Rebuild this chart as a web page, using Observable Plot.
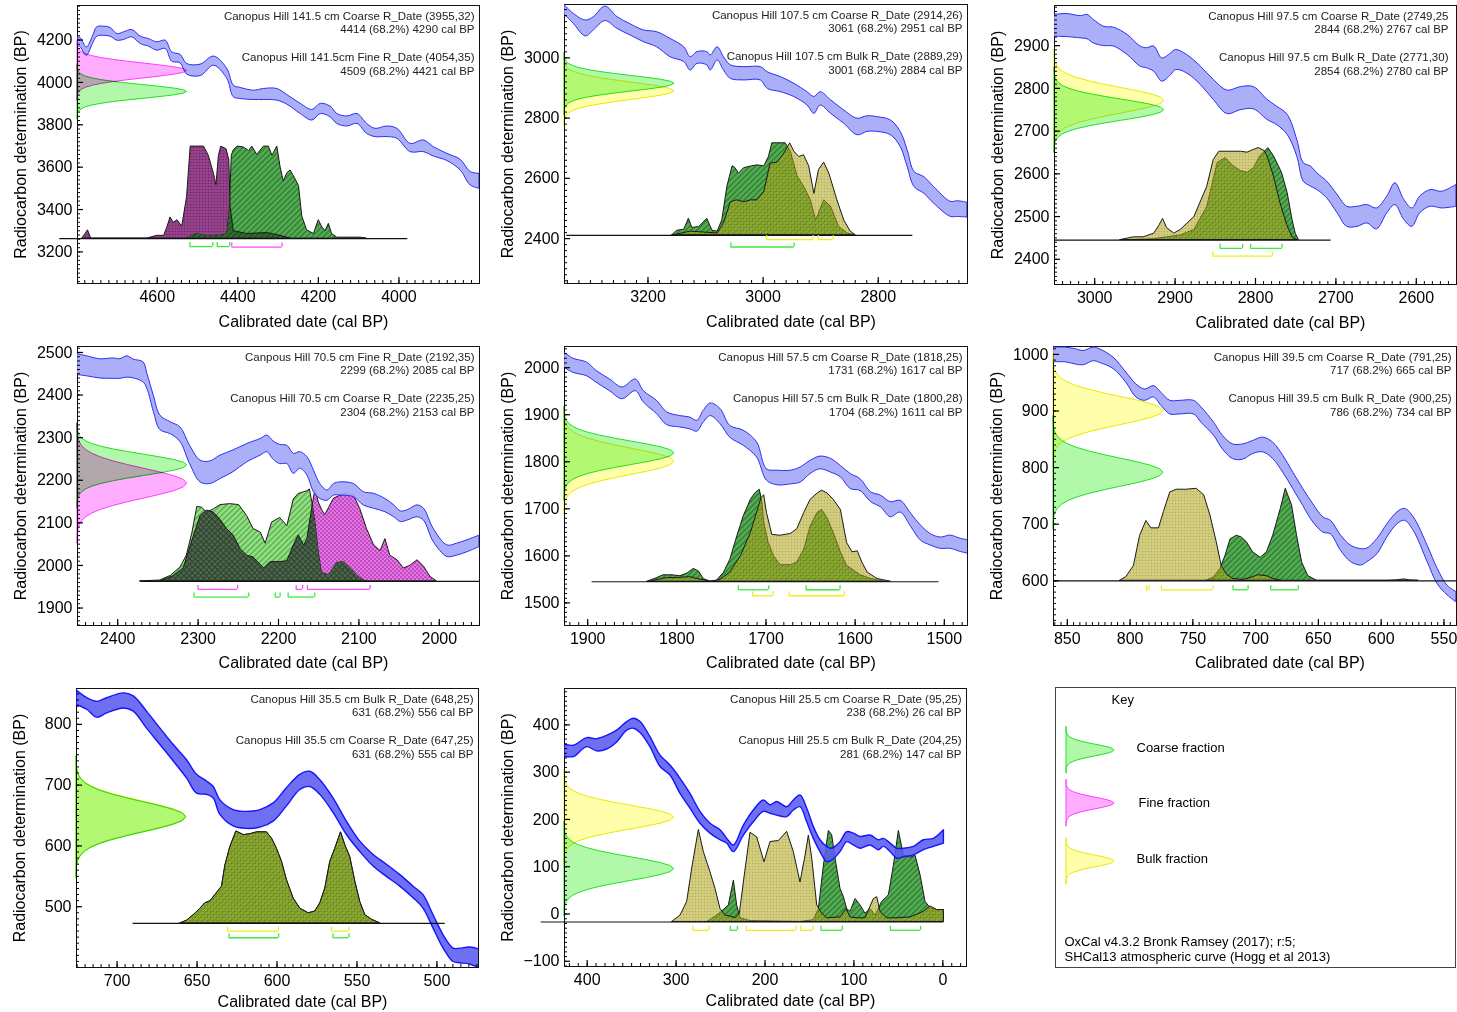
<!DOCTYPE html>
<html><head><meta charset="utf-8"><title>Canopus Hill OxCal calibrations</title>
<script src="https://cdn.jsdelivr.net/npm/d3@7"></script>
<script src="https://cdn.jsdelivr.net/npm/@observablehq/plot@0.6"></script>
<style>
html,body{margin:0;padding:0;background:#fff;}
#fig{position:relative;width:1457px;height:1012px;overflow:hidden;background:#fff;font-family:"Liberation Sans",Arial,Helvetica,sans-serif;}
</style></head><body>
<svg width="0" height="0" style="position:absolute;left:0;top:0" aria-hidden="true"><defs>
<pattern id="patGreen" patternUnits="userSpaceOnUse" width="4" height="4" patternTransform="rotate(-45)"><rect width="4" height="4" fill="#55ad55"/><rect width="4" height="1.4" fill="#2e7a2e"/></pattern>
<pattern id="patGreenLight" patternUnits="userSpaceOnUse" width="4" height="4" patternTransform="rotate(-45)"><rect width="4" height="4" fill="#92e383"/><rect width="4" height="1.4" fill="#5aa84e"/></pattern>
<pattern id="patDarkGreen" patternUnits="userSpaceOnUse" width="4" height="4" patternTransform="rotate(-45)"><rect width="4" height="4" fill="#316f31"/><rect width="4" height="1.4" fill="#1d4a1d"/></pattern>
<pattern id="patDarkGray" patternUnits="userSpaceOnUse" width="4" height="4" patternTransform="rotate(45)"><rect width="4" height="4" fill="#4f694f"/><rect width="4" height="1.2" fill="#2f432f"/><rect width="1.2" height="4" fill="#2f432f"/></pattern>
<pattern id="patYellow" patternUnits="userSpaceOnUse" width="3" height="3"><rect width="3" height="3" fill="#b3a91e"/><circle cx="1.5" cy="1.5" r="0.75" fill="#7a7400"/></pattern>
<pattern id="patMagenta" patternUnits="userSpaceOnUse" width="4" height="4"><rect width="4" height="4" fill="#e476e4"/><rect width="2" height="2" fill="#c14cc1"/><rect x="2" y="2" width="2" height="2" fill="#c14cc1"/></pattern>
<pattern id="patPurple" patternUnits="userSpaceOnUse" width="3" height="3"><rect width="3" height="3" fill="#96428c"/><circle cx="1.5" cy="1.5" r="0.8" fill="#6b2464"/></pattern>
</defs></svg>
<div id="fig"></div>
<script>
const FONT = '"Liberation Sans", Arial, Helvetica, sans-serif';
const fmt = d3.format("d");

// ---------- shared: standard normal profile (offset in sd, relative density) ----------
const gaussProfile = [[0,1],[0.25,0.969],[0.5,0.8825],[0.75,0.7548],[1,0.6065],[1.25,0.4578],[1.5,0.3247],[1.75,0.2163],[2,0.1353],[2.25,0.0796],[2.5,0.0439],[2.75,0.0228],[3,0.0111],[3.25,0.0051],[3.5,0.0022],[3.75,0.0009],[4,0.0003]];

// ---------- Panel 1: 141.5 cm ----------
const xTicks141 = [4600,4400,4200,4000];
const yTicks141 = [3200,3400,3600,3800,4000,4200];
const labels141 = ["Canopus Hill 141.5 cm Coarse R_Date (3955,32)","4414 (68.2%) 4290 cal BP","Canopus Hill 141.5cm Fine R_Date (4054,35)","4509 (68.2%) 4421 cal BP"];
const dates141 = [["coarse",3955,32],["fine",4054,35]];
const cal141 = [[4797,4213,4173],[4790,4209,4165],[4775,4165,4126],[4760,4215,4180],[4749,4260,4216],[4732,4263,4220],[4716,4257,4216],[4699,4228,4197],[4683,4236,4200],[4662,4247,4213],[4641,4216,4181],[4621,4205,4169],[4600,4189,4150],[4579,4197,4158],[4563,4142,4098],[4542,4130,4090],[4526,4087,4037],[4492,4084,4030],[4459,4122,4079],[4426,4063,4016],[4410,3985,3930],[4393,3974,3922],[4360,3961,3917],[4335,3969,3917],[4302,3969,3914],[4277,3940,3895],[4244,3899,3851],[4215,3870,3820],[4194,3899,3851],[4170,3886,3836],[4153,3851,3804],[4128,3839,3792],[4103,3851,3804],[4079,3804,3757],[4058,3781,3742],[4029,3792,3742],[4004,3781,3734],[3971,3710,3671],[3938,3726,3671],[3913,3694,3650],[3880,3663,3629],[3847,3635,3585],[3822,3577,3514],[3800,3569,3498]];
const dist141Fine = [[4786,0],[4778,0.05],[4772,0.09],[4764,0],[4625,0],[4600,0.03],[4583,0.03],[4575,0.12],[4567,0.23],[4559,0.17],[4550,0.2],[4538,0.13],[4526,0.45],[4517,1],[4484,1],[4472,0.9],[4459,0.7],[4453,0.58],[4447,0.9],[4441,1],[4428,0.97],[4421,0.85],[4418,0.35],[4410,0.08],[4377,0.05],[4327,0.06],[4294,0.03],[4269,0]];
const dist141Coarse = [[4526,0],[4501,0.05],[4476,0.02],[4443,0.03],[4426,0.05],[4420,0.3],[4415,0.9],[4410,0.96],[4400,1],[4385,0.99],[4372,0.95],[4364,1],[4352,0.91],[4335,1],[4323,1],[4314,0.9],[4302,1],[4294,0.78],[4286,0.62],[4277,0.71],[4269,0.74],[4261,0.68],[4248,0.57],[4240,0.24],[4228,0.09],[4211,0.05],[4199,0.2],[4190,0.12],[4182,0.08],[4174,0.16],[4166,0.05],[4153,0.01],[4095,0.01],[4080,0]];
const ranges141 = [["coarse",4519,4462],["coarse",4451,4420],["fine",4415,4290]];

// ---------- Panel 2: 107.5 cm ----------
const xTicks107 = [3200,3000,2800];
const yTicks107 = [2400,2600,2800,3000];
const labels107 = ["Canopus Hill 107.5 cm Coarse R_Date (2914,26)","3061 (68.2%) 2951 cal BP","Canopus Hill 107.5 cm Bulk R_Date (2889,29)","3001 (68.2%) 2884 cal BP"];
const dates107 = [["coarse",2914,26],["bulk",2889,29]];
const cal107 = [[3345,3175,3144],[3329,3146,3113],[3308,3124,3071],[3294,3135,3091],[3274,3170,3122],[3253,3135,3096],[3230,3111,3074],[3207,3091,3052],[3184,3085,3035],[3161,3063,3002],[3137,3035,2986],[3126,3002,2958],[3114,3019,2980],[3097,3019,2975],[3091,3008,2958],[3079,3035,2991],[3068,3002,2958],[3056,2975,2930],[3033,2969,2925],[3004,2969,2925],[2992,2952,2897],[2969,2936,2886],[2946,2914,2870],[2923,2886,2842],[2911,2870,2814],[2900,2886,2842],[2882,2859,2814],[2859,2825,2781],[2836,2798,2743],[2819,2806,2754],[2801,2803,2754],[2778,2792,2743],[2761,2754,2704],[2749,2693,2638],[2737,2621,2571],[2720,2604,2549],[2703,2571,2516],[2674,2522,2472],[2662,2524,2472],[2645,2519,2470]];
const dist107Coarse = [[3158,0],[3149,0.05],[3137,0.06],[3129,0.18],[3123,0.08],[3111,0.09],[3097,0.18],[3088,0.05],[3079,0.04],[3071,0.16],[3062,0.53],[3053,0.75],[3048,0.73],[3042,0.67],[3033,0.73],[3019,0.75],[3010,0.76],[2998,0.75],[2990,0.85],[2984,1],[2961,1],[2952,0.91],[2940,0.64],[2929,0.53],[2917,0.38],[2908,0.16],[2894,0.38],[2882,0.31],[2868,0.09],[2853,0.02],[2842,0]];
const dist107Bulk = [[3155,0],[3126,0.04],[3079,0.02],[3068,0.13],[3056,0.36],[3045,0.38],[3033,0.36],[3021,0.38],[3010,0.38],[2998,0.47],[2987,0.78],[2975,0.79],[2963,0.89],[2953,1],[2946,0.91],[2937,0.85],[2929,0.87],[2920,0.75],[2911,0.45],[2903,0.71],[2894,0.79],[2885,0.67],[2871,0.38],[2859,0.16],[2848,0.04],[2839,0]];
const ranges107 = [["bulk",2994,2913],["bulk",2904,2878],["coarse",3056,2946]];

// ---------- Panel 3: 97.5 cm ----------
const xTicks97 = [3000,2900,2800,2700,2600];
const yTicks97 = [2400,2500,2600,2700,2800,2900];
const labels97 = ["Canopus Hill 97.5 cm Coarse R_Date (2749,25","2844 (68.2%) 2767 cal BP","Canopus Hill 97.5 cm Bulk R_Date (2771,30)","2854 (68.2%) 2780 cal BP"];
const dates97 = [["coarse",2749,25],["bulk",2771,30]];
const cal97 = [[3050,2972,2921],[3034,2974,2920],[3017,2969,2917],[3009,2972,2915],[3001,2960,2905],[2988,2944,2899],[2976,2942,2898],[2959,2925,2878],[2943,2898,2851],[2935,2894,2847],[2926,2898,2839],[2916,2870,2816],[2905,2882,2831],[2899,2890,2843],[2885,2878,2835],[2868,2851,2808],[2852,2820,2773],[2835,2795,2740],[2818,2803,2749],[2802,2803,2751],[2785,2773,2726],[2773,2757,2714],[2760,2738,2691],[2748,2679,2640],[2740,2625,2582],[2731,2617,2570],[2723,2601,2562],[2711,2582,2543],[2698,2551,2508],[2686,2523,2476],[2673,2523,2476],[2661,2527,2484],[2649,2519,2470],[2636,2547,2508],[2626,2578,2527],[2615,2539,2492],[2605,2519,2476],[2595,2547,2508],[2582,2562,2523],[2568,2558,2519],[2550,2574,2523]];
const dist97Bulk = [[2968,0],[2951,0.03],[2939,0.03],[2926,0.07],[2920,0.15],[2915,0.23],[2910,0.13],[2901,0.07],[2893,0.11],[2876,0.25],[2860,0.58],[2852,0.87],[2845,0.96],[2835,0.96],[2818,0.96],[2810,0.95],[2802,0.98],[2796,1],[2789,0.97],[2785,0.91],[2777,0.69],[2769,0.4],[2760,0.15],[2754,0.03],[2748,0]];
const dist97Coarse = [[2959,0],[2926,0.01],[2910,0.03],[2893,0.05],[2876,0.11],[2860,0.36],[2847,0.84],[2837,0.89],[2827,0.8],[2818,0.75],[2810,0.73],[2802,0.78],[2794,0.91],[2784,1],[2777,0.91],[2767,0.73],[2760,0.51],[2754,0.22],[2750,0.07],[2746,0]];
const ranges97 = [["coarse",2844,2816],["coarse",2806,2767],["bulk",2853,2779]];

// ---------- Panel 4: 70.5 cm ----------
const xTicks70 = [2400,2300,2200,2100,2000];
const yTicks70 = [1900,2000,2100,2200,2300,2400,2500];
const labels70 = ["Canpous Hill 70.5 cm Fine R_Date (2192,35)","2299 (68.2%) 2085 cal BP","Canopus Hill 70.5 cm Coarse R_Date (2235,25)","2304 (68.2%) 2153 cal BP"];
const dates70 = [["coarse",2235,25],["fine",2192,35]];
const cal70 = [[2450,2496,2447],[2438,2491,2444],[2422,2484,2439],[2405,2486,2438],[2397,2484,2438],[2388,2491,2441],[2380,2483,2439],[2368,2477,2430],[2363,2449,2414],[2355,2398,2360],[2347,2352,2318],[2334,2336,2308],[2322,2324,2290],[2310,2281,2238],[2297,2246,2195],[2285,2244,2191],[2272,2258,2203],[2256,2270,2219],[2239,2285,2242],[2222,2297,2258],[2214,2305,2266],[2206,2291,2248],[2198,2283,2238],[2189,2281,2238],[2181,2262,2215],[2173,2266,2227],[2164,2254,2211],[2156,2223,2172],[2148,2191,2156],[2139,2176,2152],[2131,2191,2164],[2123,2195,2164],[2106,2191,2160],[2094,2172,2141],[2081,2168,2133],[2067,2156,2125],[2056,2141,2113],[2048,2127,2102],[2040,2129,2105],[2027,2141,2113],[2019,2133,2105],[2007,2086,2055],[1990,2047,2020],[1978,2051,2023],[1965,2059,2031],[1950,2070,2043]];
const dist70Coarse = [[2372,0],[2347,0.01],[2334,0.06],[2322,0.15],[2314,0.28],[2307,0.53],[2301,0.81],[2295,0.8],[2289,0.75],[2281,0.78],[2272,0.83],[2260,0.84],[2249,0.83],[2239,0.71],[2231,0.57],[2222,0.53],[2216,0.41],[2208,0.64],[2198,0.69],[2189,0.6],[2181,0.89],[2175,0.95],[2168,0.97],[2164,0.98],[2161,1],[2158,0.86],[2154,0.64],[2150,0.32],[2146,0.09],[2137,0.07],[2127,0.2],[2119,0.21],[2110,0.14],[2102,0.06],[2094,0.01],[2090,0]];
const dist70Fine = [[2347,0],[2330,0.06],[2318,0.14],[2305,0.5],[2297,0.71],[2289,0.77],[2281,0.75],[2274,0.69],[2264,0.57],[2256,0.5],[2247,0.35],[2239,0.28],[2231,0.26],[2218,0.14],[2210,0.21],[2198,0.21],[2189,0.22],[2181,0.39],[2175,0.5],[2168,0.39],[2164,0.46],[2158,0.8],[2154,1],[2150,0.86],[2146,0.78],[2142,0.72],[2137,0.8],[2131,0.9],[2115,0.96],[2106,0.93],[2098,0.78],[2090,0.57],[2081,0.39],[2073,0.33],[2067,0.46],[2061,0.28],[2052,0.23],[2044,0.14],[2036,0.17],[2027,0.23],[2019,0.16],[2011,0.05],[2003,0]];
const ranges70 = [["fine",2300,2251],["fine",2178,2170],["fine",2164,2086],["coarse",2305,2237],["coarse",2204,2198],["coarse",2188,2155]];

// ---------- Panel 5: 57.5 cm ----------
const xTicks57 = [1900,1800,1700,1600,1500];
const yTicks57 = [1500,1600,1700,1800,1900,2000];
const labels57 = ["Canopus Hill 57.5 cm Coarse R_Date (1818,25)","1731 (68.2%) 1617 cal BP","Canopus Hill 57.5 cm Bulk R_Date (1800,28)","1704 (68.2%) 1611 cal BP"];
const dates57 = [["coarse",1818,25],["bulk",1800,28]];
const cal57 = [[1926,2032,2000],[1916,2019,1989],[1901,2011,1982],[1890,1993,1968],[1875,1975,1950],[1861,1958,1933],[1846,1975,1950],[1837,1950,1926],[1822,1929,1901],[1811,1905,1878],[1796,1897,1873],[1785,1894,1869],[1777,1887,1864],[1770,1908,1883],[1762,1924,1897],[1751,1912,1880],[1740,1876,1851],[1725,1866,1834],[1710,1841,1809],[1699,1784,1760],[1687,1781,1750],[1672,1781,1752],[1661,1788,1756],[1650,1802,1774],[1639,1811,1784],[1627,1806,1777],[1616,1791,1767],[1605,1774,1742],[1594,1763,1738],[1582,1735,1714],[1571,1728,1703],[1560,1714,1682],[1549,1717,1692],[1537,1689,1661],[1526,1664,1632],[1515,1646,1622],[1504,1639,1615],[1493,1643,1615],[1481,1636,1608],[1470,1632,1603]];
const dist57Coarse = [[1833,0],[1822,0.04],[1815,0.07],[1805,0.07],[1796,0.06],[1788,0.09],[1781,0.14],[1775,0.11],[1770,0.03],[1762,0],[1755,0.01],[1747,0.1],[1740,0.24],[1732,0.5],[1725,0.71],[1717,0.89],[1712,0.96],[1707,1],[1704,0.86],[1702,0.64],[1697,0.42],[1691,0.28],[1684,0.18],[1672,0.18],[1665,0.21],[1657,0.35],[1650,0.6],[1642,0.75],[1637,0.78],[1631,0.69],[1624,0.53],[1616,0.32],[1609,0.17],[1601,0.12],[1594,0.07],[1582,0.03],[1567,0]];
const dist57Bulk = [[1830,0],[1811,0.04],[1800,0.04],[1785,0.05],[1777,0.03],[1762,0],[1751,0.02],[1740,0.1],[1728,0.28],[1717,0.53],[1710,0.75],[1705,0.91],[1702,0.94],[1699,0.75],[1693,0.51],[1684,0.5],[1672,0.52],[1665,0.57],[1657,0.75],[1650,0.89],[1642,0.96],[1637,0.99],[1631,0.96],[1624,0.89],[1616,0.78],[1609,0.42],[1603,0.32],[1597,0.33],[1592,0.21],[1586,0.1],[1575,0.03],[1560,0]];
const ranges57 = [["coarse",1731,1697],["coarse",1655,1617],["bulk",1715,1692],["bulk",1674,1612]];

// ---------- Panel 6: 39.5 cm ----------
const xTicks39 = [850,800,750,700,650,600,550];
const yTicks39 = [600,700,800,900,1000];
const labels39 = ["Canopus Hill 39.5 cm Coarse R_Date (791,25)","717 (68.2%) 665 cal BP","Canopus Hill 39.5 cm Bulk R_Date (900,25)","786 (68.2%) 734 cal BP"];
const dates39 = [["coarse",791,25],["bulk",900,25]];
const cal39 = [[861,1012,986],[851,1012,986],[843,1009,982],[837,1006,981],[829,1012,988],[824,1009,985],[813,994,974],[803,968,950],[795,947,924],[788,938,918],[781,944,924],[775,932,909],[768,918,894],[760,918,894],[749,918,894],[743,906,879],[733,879,856],[726,856,832],[718,841,815],[710,841,814],[702,847,824],[694,853,827],[686,844,815],[678,821,791],[670,791,762],[662,762,732],[654,735,703],[646,712,685],[640,706,682],[632,680,653],[624,662,633],[616,656,627],[611,657,633],[603,674,647],[595,700,677],[587,721,700],[581,727,706],[574,712,688],[563,662,633],[555,621,594],[547,591,574],[540,580,562]];
const dist39Bulk = [[808,0],[803,0.04],[797,0.16],[792,0.49],[787,0.65],[783,0.57],[777,0.57],[773,0.75],[768,0.96],[763,0.99],[755,0.99],[747,1],[741,0.93],[736,0.71],[731,0.42],[727,0.16],[723,0.07],[718,0.02],[710,0.01],[704,0.03],[698,0.06],[691,0.05],[686,0.02],[680,0]];
const dist39Coarse = [[739,0],[733,0.04],[728,0.13],[724,0.27],[720,0.45],[715,0.49],[711,0.47],[707,0.42],[702,0.31],[696,0.25],[691,0.31],[686,0.49],[680,0.78],[676,1],[671,0.82],[667,0.49],[663,0.2],[658,0.05],[651,0],[595,0],[587,0.005],[582,0.015],[577,0.005],[570,0]];
const ranges39 = [["bulk",787,785],["bulk",775,734],["coarse",718,706],["coarse",688,666]];

// ---------- Panel 7: 35.5 cm ----------
const xTicks35 = [700,650,600,550,500];
const yTicks35 = [500,600,700,800];
const labels35 = ["Canopus Hill 35.5 cm Bulk R_Date (648,25)","631 (68.2%) 556 cal BP","Canopus Hill 35.5 cm Coarse R_Date (647,25)","631 (68.2%) 555 cal BP"];
const dates35 = [["coarse",647,25],["bulk",648,25]];
const cal35 = [[725.4,856,832],[718.7,843,824],[712.5,837,811],[706.2,843,818],[695.8,851,826],[689.6,846,821],[681.3,821,793],[672.9,793,766],[664.6,766,739],[656.3,741,711],[650,717,686],[643.8,706,684],[639.6,697,678],[635.4,675,651],[627.1,659,632],[618.8,656,628],[610.4,659,630],[602.1,670,640],[593.8,695,665],[585.4,717,692],[579.2,722,697],[572.9,708,684],[564.6,678,654],[556.3,640,618],[547.9,607,590],[539.6,585,566],[531.3,569,549],[522.9,552,533],[514.6,533,514],[508.4,519,497],[502.1,486,464],[495.8,453,431],[489.6,431,409],[485.4,431,407],[479.2,433,405],[472.9,429,398]];
const dist35Coarse = [[660.4,0],[656.3,0.03],[652.1,0.09],[647.9,0.16],[644.8,0.22],[641.7,0.24],[638.5,0.31],[634.4,0.4],[632.3,0.63],[629.2,0.83],[625.4,1],[620.8,0.96],[616.7,0.97],[612.5,0.99],[606.3,0.99],[603.1,0.92],[600,0.81],[596.9,0.67],[593.8,0.47],[589.6,0.27],[585.4,0.16],[580.2,0.11],[576.1,0.13],[572.9,0.22],[569.8,0.38],[566.7,0.67],[563.6,0.81],[560,0.99],[557.3,0.85],[554.2,0.72],[551,0.45],[547.9,0.23],[544.8,0.09],[540.6,0.04],[535.4,0]];
const dist35Bulk = [[660.4,0],[656.3,0.03],[652.1,0.09],[647.9,0.16],[644.8,0.22],[641.7,0.24],[638.5,0.31],[634.4,0.4],[632.3,0.63],[629.2,0.83],[625.4,1],[620.8,0.96],[616.7,0.97],[612.5,0.99],[606.3,0.99],[603.1,0.92],[600,0.81],[596.9,0.67],[593.8,0.47],[589.6,0.27],[585.4,0.16],[580.2,0.11],[576.1,0.13],[572.9,0.22],[569.8,0.38],[566.7,0.67],[563.6,0.81],[560,0.99],[557.3,0.85],[554.2,0.72],[551,0.45],[547.9,0.23],[544.8,0.09],[540.6,0.04],[535.4,0]];
const ranges35 = [["bulk",631,599],["bulk",566,555],["coarse",630,599],["coarse",565,555]];

// ---------- Panel 8: 25.5 cm ----------
const xTicks25 = [400,300,200,100,0];
const yTicks25 = [-100,0,100,200,300,400];
const labels25 = ["Canopus Hill 25.5 cm Coarse R_Date (95,25)","238 (68.2%) 26 cal BP","Canopus Hill 25.5 cm Bulk R_Date (204,25)","281 (68.2%) 147 cal BP"];
const dates25 = [["coarse",95,25],["bulk",204,25]];
const cal25 = [[425.5,358,332],[415,356,332],[400,372,353],[388.8,370,344],[377.5,377,348],[366.3,388,363],[355,406,388],[347.5,413,392],[340,406,383],[328.8,374,353],[317.5,335,311],[306.3,314,293],[295,286,254],[283.8,254,223],[272.5,216,191],[261.3,191,170],[250,177,156],[242.5,159,149],[235,145,131],[223.8,187,166],[212.6,219,194],[201.3,240,216],[193.8,230,212],[186.3,237,208],[175.1,226,205],[167.6,240,219],[160.1,251,226],[152.6,223,194],[145.1,184,159],[137.6,156,131],[130.1,142,110],[124.4,138,113],[115.1,152,131],[107.6,173,152],[100.1,170,145],[92.6,163,138],[81.3,166,145],[72,156,135],[66.3,159,142],[58.8,149,131],[51.3,138,117],[43.8,138,120],[32.6,142,124],[21.4,156,135],[10.1,159,142],[-1.2,177,149]];
const dist25Bulk = [[304.4,0],[295,0.07],[287.5,0.22],[281.9,0.58],[274.4,1],[268.8,0.76],[261.3,0.54],[255.7,0.36],[250,0.14],[244.4,0.07],[238.8,0.06],[233.2,0.04],[228.3,0.09],[223.8,0.43],[216.3,0.97],[208.8,0.92],[200.6,0.65],[193.8,0.87],[184.4,0.88],[175.1,0.98],[167.6,0.76],[160.1,0.43],[154.4,0.72],[150.7,0.94],[146.9,0.69],[141.3,0.18],[135.7,0.09],[130.1,0.04],[115.1,0.05],[108.3,0.14],[103.8,0.05],[96.3,0.04],[87,0.04],[77.6,0.25],[73.8,0.27],[70.1,0.11],[62.6,0.04],[51.3,0.04],[36.3,0.05],[21.4,0.11],[13.9,0.17],[6.4,0.13],[-1.2,0.13]];
const dist25Coarse = [[265,0],[253.8,0.07],[246.3,0.13],[240.7,0.18],[235,0.45],[231.3,0.18],[227.5,0.04],[216.3,0.01],[160.1,0],[145.1,0.02],[139.4,0.14],[133.8,0.61],[128.2,0.99],[124.4,0.94],[120.7,0.69],[115.1,0.36],[111.3,0.27],[107.6,0.14],[103.8,0.11],[98.2,0.25],[92.6,0.18],[87,0.09],[81.3,0.14],[75.7,0.07],[68.2,0.22],[60.7,0.29],[55.1,0.61],[49.5,0.99],[43.8,0.72],[36.3,0.7],[30.7,0.72],[25.1,0.51],[19.5,0.22],[13.9,0.15],[6.4,0.13],[-1.2,0.13]];
const ranges25 = [["bulk",281,263],["bulk",221,165],["bulk",160,146],["coarse",239,231],["coarse",137,113],["coarse",59,25]];

// ---------- Key ----------
const keyFracs = ["coarse","fine","bulk"];
const keyLabels = ["Coarse fraction","Fine fraction","Bulk fraction"];
const keyNotes = ["OxCal v4.3.2 Bronk Ramsey (2017); r:5;","SHCal13 atmospheric curve (Hogg et al 2013)"];

// ---------- styles ----------
const gaussStyle = {coarse:{fill:"#b2f8ab",stroke:"#1fe01f"}, fine:{fill:"#ffadff",stroke:"#ff3cff"}, bulk:{fill:"#ffffab",stroke:"#e8e800"}};
const rangeColor = {coarse:"#3ee83e", fine:"#ff4cff", bulk:"#eeee1a"};
const curveStyles = {light:{fill:"#a3a8f6",opacity:0.92,stroke:"#2d2df2",width:1}, dark:{fill:"#5b5bef",opacity:0.88,stroke:"#1414ff",width:1.4}};
const distDefault = {coarse:{fill:"url(#patGreen)",opacity:1}, bulk:{fill:"url(#patYellow)",opacity:0.58}, fine:{fill:"url(#patMagenta)",opacity:1}};

const panels = [
 {frame:[77,5,479,283], xDomain:[4798,3800], yDomain:[3051,4363], xTicks:xTicks141, yTicks:yTicks141, xMinor:20, yMinor:20, curve:cal141, curveStyle:"light", dates:dates141,
  dists:[["fine",dist141Fine],["coarse",dist141Coarse]], distOverride:{fine:{fill:"url(#patPurple)",opacity:1}}, overlap:"url(#patDarkGreen)",
  base:3263, baseline:[4842,3978], ranges:ranges141, rangeOff:{coarse:8,fine:8.5}, labels:labels141, labelDx:-5, titleDy:38},
 {frame:[564,4,967,283], xDomain:[3345,2645], yDomain:[2251,3177], xTicks:xTicks107, yTicks:yTicks107, xMinor:20, yMinor:20, curve:cal107, curveStyle:"light", dates:dates107,
  dists:[["coarse",dist107Coarse],["bulk",dist107Bulk]], distOverride:{}, base:2411, baseline:[3341,2740], ranges:ranges107, rangeOff:{bulk:4.3,coarse:11.7}, labels:labels107, labelDx:-5, titleDy:38},
 {frame:[1054,5,1456,284], xDomain:[3050,2550], yDomain:[2341,2994], xTicks:xTicks97, yTicks:yTicks97, xMinor:10, yMinor:10, curve:cal97, curveStyle:"light", dates:dates97,
  dists:[["coarse",dist97Coarse],["bulk",dist97Bulk]], distOverride:{}, base:2445, baseline:[3050,2706], ranges:ranges97, rangeOff:{coarse:8.3,bulk:16}, labels:labels97, labelDx:-8, titleDy:38},
 {frame:[77,346,479,625], xDomain:[2450,1950], yDomain:[1859,2514], xTicks:xTicks70, yTicks:yTicks70, xMinor:10, yMinor:10, curve:cal70, curveStyle:"light", dates:dates70,
  dists:[["fine",dist70Fine],["coarse",dist70Coarse]], distOverride:{coarse:{fill:"url(#patGreenLight)",opacity:1}}, overlap:"url(#patDarkGray)",
  base:1962.5, baseline:[2371,1950], ranges:ranges70, rangeOff:{fine:8,coarse:15.7}, labels:labels70, labelDx:-5, titleDy:37},
 {frame:[564,346,967,625], xDomain:[1926,1474], yDomain:[1452,2045], xTicks:xTicks57, yTicks:yTicks57, xMinor:10, yMinor:10, curve:cal57, curveStyle:"light", dates:dates57,
  dists:[["coarse",dist57Coarse],["bulk",dist57Bulk]], distOverride:{}, base:1545, baseline:[1895,1506], ranges:ranges57, rangeOff:{coarse:8,bulk:14}, labels:labels57, labelDx:-5, titleDy:37},
 {frame:[1053,346,1456,625], xDomain:[861,540], yDomain:[521,1014], xTicks:xTicks39, yTicks:yTicks39, xMinor:5, yMinor:10, curve:cal39, curveStyle:"light", dates:dates39,
  dists:[["coarse",dist39Coarse],["bulk",dist39Bulk]], distOverride:{}, base:600, baseline:[861,540], ranges:ranges39, rangeOff:{bulk:9,coarse:9}, labels:labels39, labelDx:-5, titleDy:37},
 {frame:[76,688,478,967], xDomain:[725.4,474], yDomain:[400,859], xTicks:xTicks35, yTicks:yTicks35, xMinor:5, yMinor:10, curve:cal35, curveStyle:"dark", dates:dates35,
  dists:[["coarse",dist35Coarse],["bulk",dist35Bulk]], distOverride:{}, base:472.5, baseline:[690,494.8], ranges:ranges35, rangeOff:{bulk:7.7,coarse:14.3}, labels:labels35, labelDx:-5, titleDy:34},
 {frame:[564,688,966,966], xDomain:[425.5,-26.6], yDomain:[-111,477], xTicks:xTicks25, yTicks:yTicks25, xMinor:10, yMinor:10, curve:cal25, curveStyle:"dark", dates:dates25,
  dists:[["coarse",dist25Coarse],["bulk",dist25Bulk]], distOverride:{}, base:-16.9, baseline:[451.7,-1.2], ranges:ranges25, rangeOff:{bulk:8.3,coarse:8.3}, labels:labels25, labelDx:-5, titleDy:34}
];

function gaussRows(mean, sd) {
  const rows = [];
  for (let i = gaussProfile.length - 1; i > 0; i--) rows.push({y: mean - gaussProfile[i][0] * sd, d: gaussProfile[i][1]});
  for (const [k, d] of gaussProfile) rows.push({y: mean + k * sd, d});
  return rows;
}
function minorTicks(domain, step) {
  const lo = Math.min(...domain), hi = Math.max(...domain);
  return d3.range(Math.ceil(lo / step) * step, hi + 1e-9, step);
}

const fig = document.getElementById("fig");
const NS = "http://www.w3.org/2000/svg";
const M = {l:77, r:2, t:6, b:52};
const LABEL_DY = [10.5, 24, 51.5, 65.5];

panels.forEach((P, pi) => {
  const [fl, ft, fr, fb] = P.frame;
  const W = fr - fl, H = fb - ft;
  const [xa, xb] = P.xDomain, [ya, yb] = P.yDomain;
  const upp = (yb - ya) / H;        // BP per pixel
  const xSpan = xa - xb;
  const distH = 92 * upp;
  const marks = [];
  marks.push(Plot.frame({stroke: "#111", strokeWidth: 1}));
  // posterior distributions
  const distOpts = (rows, fill, opacity) => ({x: r => r[0], y1: () => P.base, y2: r => P.base + r[1] * distH,
      fill, fillOpacity: opacity, stroke: "#1a1a1a", strokeWidth: 1, strokeLinejoin: "round"});
  for (const [frac, rows] of P.dists) {
    const st = P.distOverride[frac] || distDefault[frac];
    marks.push(Plot.areaY(rows, {...distOpts(rows, st.fill, st.opacity), clip: true}));
  }
  // overlap of the two distributions (first one, clipped to the second one afterwards)
  if (P.overlap) marks.push(Plot.areaY(P.dists[0][1], distOpts(P.dists[0][1], P.overlap, 1)));
  // calibration curve
  const cs = curveStyles[P.curveStyle];
  marks.push(Plot.areaY(P.curve, {x: r => r[0], y1: r => r[2], y2: r => r[1], curve: "catmull-rom",
    fill: cs.fill, fillOpacity: cs.opacity, stroke: cs.stroke, strokeWidth: cs.width, clip: true}));
  // radiocarbon gaussians
  for (const [frac, mean, sd] of P.dates) {
    const g = gaussStyle[frac];
    marks.push(Plot.areaX(gaussRows(mean, sd), {y: "y", x1: () => xa, x2: r => xa - r.d * 0.273 * xSpan,
      fill: g.fill, stroke: g.stroke, strokeWidth: 1, mixBlendMode: "multiply"}));
  }
  // baseline
  marks.push(Plot.ruleY([P.base], {x1: () => P.baseline[0], x2: () => P.baseline[1], stroke: "#111", strokeWidth: 1.2}));
  // 68.2% ranges
  for (const frac of Object.keys(P.rangeOff)) {
    const rs = P.ranges.filter(r => r[0] === frac);
    if (!rs.length) continue;
    const y0 = P.base - P.rangeOff[frac] * upp, y1 = y0 + 4 * upp;
    marks.push(Plot.ruleY(rs, {y: () => y0, x1: r => r[1], x2: r => r[2], stroke: rangeColor[frac], strokeWidth: 1.3}));
    marks.push(Plot.ruleX(rs.flatMap(r => [r[1], r[2]]), {x: v => v, y1: () => y0, y2: () => y1, stroke: rangeColor[frac], strokeWidth: 1.3}));
  }
  // annotation text
  P.labels.forEach((t, i) => marks.push(Plot.text([t], {frameAnchor: "top-right", dx: P.labelDx, dy: LABEL_DY[i], textAnchor: "end", lineAnchor: "middle", fontSize: 11.5, fill: "#222"})));
  // axes
  const xMin = minorTicks(P.xDomain, P.xMinor), yMin = minorTicks(P.yDomain, P.yMinor);
  marks.push(
    Plot.axisX(P.xTicks, {anchor: "bottom", tickSize: 0, tickPadding: 7, tickFormat: fmt, label: null, fontSize: 16}),
    Plot.axisX(xMin, {anchor: "bottom", tickSize: -3, fill: "none", label: null}),
    Plot.axisX(P.xTicks, {anchor: "bottom", tickSize: -6, fill: "none", label: null, strokeWidth: 1.2}),
    Plot.axisY(P.yTicks, {anchor: "left", tickSize: 0, tickPadding: 5, tickFormat: fmt, label: null, fontSize: 16}),
    Plot.axisY(yMin, {anchor: "left", tickSize: -3, fill: "none", label: null}),
    Plot.axisY(P.yTicks, {anchor: "left", tickSize: -6, fill: "none", label: null, strokeWidth: 1.2}),
    Plot.text(["Calibrated date (cal BP)"], {frameAnchor: "bottom", dx: 25, dy: P.titleDy, textAnchor: "middle", lineAnchor: "middle", fontSize: 16}),
    Plot.text(["Radiocarbon determination (BP)"], {frameAnchor: "left", dx: -57, rotate: -90, textAnchor: "middle", lineAnchor: "middle", fontSize: 16})
  );
  const svg = Plot.plot({
    width: M.l + W + M.r, height: M.t + H + M.b,
    marginLeft: M.l, marginRight: M.r, marginTop: M.t, marginBottom: M.b,
    x: {domain: P.xDomain}, y: {domain: P.yDomain},
    style: {fontFamily: FONT, fontSize: "16px", background: "transparent", overflow: "visible", maxWidth: "none"},
    marks
  });
  // clip the overlap layer to the outline of the second distribution
  if (P.overlap) {
    const areas = svg.querySelectorAll('g[aria-label="area"]');
    const second = areas[1] && areas[1].querySelector("path");
    const ov = areas[2];
    if (second && ov) {
      const cp = document.createElementNS(NS, "clipPath");
      cp.setAttribute("id", "ovclip" + pi);
      const p = document.createElementNS(NS, "path");
      p.setAttribute("d", second.getAttribute("d"));
      cp.appendChild(p);
      svg.insertBefore(cp, svg.firstChild);
      ov.setAttribute("clip-path", `url(#ovclip${pi})`);
    }
  }
  svg.style.position = "absolute";
  svg.style.left = (fl - M.l) + "px";
  svg.style.top = (ft - M.t) + "px";
  fig.appendChild(svg);
});

// ---------- Key panel ----------
const K = {left: 1055, top: 687, width: 400, height: 280, gx: 11, gw: 48, gsd: 5.8,
  cy: [63, 116, 174], tx: [81, 83, 81], ty: [60, 115, 171], titleX: 56, titleY: 12, noteX: 9, noteY: [254, 269]};
const keyMarks = [Plot.frame({stroke: "#444", strokeWidth: 1})];
keyFracs.forEach((f, i) => {
  const g = gaussStyle[f];
  keyMarks.push(Plot.areaX(gaussRows(K.cy[i], K.gsd), {y: "y", x1: () => K.gx, x2: r => K.gx + r.d * K.gw, fill: g.fill, stroke: g.stroke, strokeWidth: 1}));
  keyMarks.push(Plot.text([keyLabels[i]], {x: () => K.tx[i], y: () => K.ty[i], textAnchor: "start", lineAnchor: "middle", fontSize: 13}));
});
keyMarks.push(Plot.text(["Key"], {x: () => K.titleX, y: () => K.titleY, textAnchor: "start", lineAnchor: "middle", fontSize: 13}));
keyNotes.forEach((t, i) => keyMarks.push(Plot.text([t], {x: () => K.noteX, y: () => K.noteY[i], textAnchor: "start", lineAnchor: "middle", fontSize: 13})));
const keySvg = Plot.plot({
  width: K.width, height: K.height, margin: 0,
  x: {domain: [0, K.width], axis: null}, y: {domain: [0, K.height], reverse: true, axis: null},
  style: {fontFamily: FONT, fontSize: "13px", background: "transparent", overflow: "visible", maxWidth: "none"},
  marks: keyMarks
});
keySvg.style.position = "absolute";
keySvg.style.left = K.left + "px";
keySvg.style.top = K.top + "px";
fig.appendChild(keySvg);
</script>
</body></html>
